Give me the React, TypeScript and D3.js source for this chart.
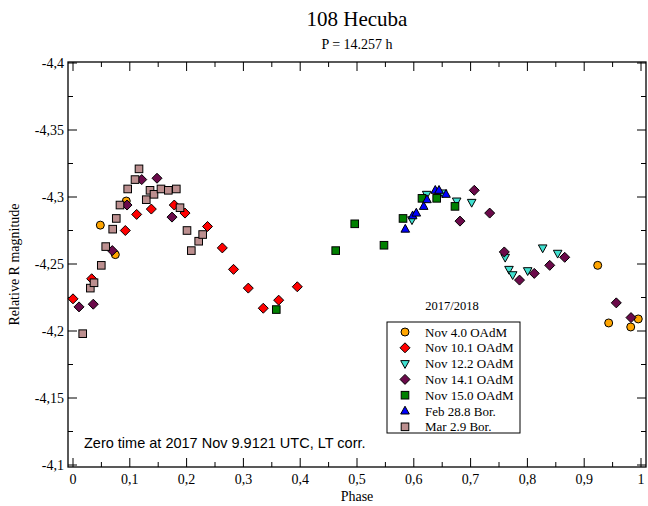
import React from "react";
import * as d3 from "d3";

const W = 648, H = 506;

// Series data: [phase, relative R magnitude]
const nov04: [number, number][] = [
  [0.0481, -4.279], [0.0745, -4.257], [0.0938, -4.297], [0.9238, -4.249],
  [0.9431, -4.206], [0.9819, -4.203], [0.9952, -4.209],
];
const nov10: [number, number][] = [
  [0.0, -4.224], [0.0329, -4.239], [0.0921, -4.275], [0.1121, -4.287],
  [0.1379, -4.291], [0.1783, -4.294], [0.1972, -4.288], [0.2368, -4.278],
  [0.2629, -4.262], [0.2826, -4.246], [0.3086, -4.232], [0.335, -4.217],
  [0.3621, -4.223], [0.3949, -4.233],
];
const nov12: [number, number][] = [
  [0.5968, -4.283], [0.6227, -4.302], [0.6509, -4.303], [0.6755, -4.297],
  [0.7019, -4.296], [0.7609, -4.255], [0.7676, -4.246], [0.7741, -4.242],
  [0.8005, -4.245], [0.8269, -4.262], [0.8533, -4.258],
];
const nov14: [number, number][] = [
  [0.0106, -4.218], [0.0357, -4.22], [0.0692, -4.26], [0.0951, -4.294],
  [0.121, -4.313], [0.1479, -4.314], [0.1743, -4.285], [0.6813, -4.282],
  [0.7065, -4.305], [0.7336, -4.288], [0.7593, -4.259], [0.7861, -4.238],
  [0.8121, -4.243], [0.8393, -4.249], [0.8657, -4.255], [0.9565, -4.221],
  [0.9824, -4.21],
];
const nov15: [number, number][] = [
  [0.3579, -4.216], [0.4625, -4.26], [0.496, -4.28], [0.5475, -4.264],
  [0.581, -4.284], [0.6144, -4.299], [0.6403, -4.299], [0.6725, -4.293],
];
const feb28: [number, number][] = [
  [0.585, -4.276], [0.598, -4.286], [0.6044, -4.288], [0.6174, -4.293],
  [0.6232, -4.298], [0.6378, -4.305], [0.6444, -4.305], [0.6567, -4.302],
];
const mar02: [number, number][] = [
  [0.0171, -4.198], [0.0305, -4.232], [0.037, -4.236], [0.0498, -4.249],
  [0.0576, -4.263], [0.0699, -4.276], [0.0762, -4.284], [0.0827, -4.294],
  [0.0963, -4.306], [0.1092, -4.313], [0.1162, -4.321], [0.129, -4.298],
  [0.1356, -4.305], [0.1426, -4.302], [0.1549, -4.306], [0.1678, -4.305],
  [0.1819, -4.306], [0.1884, -4.292], [0.2007, -4.275], [0.2083, -4.26],
  [0.2213, -4.267], [0.2283, -4.272],
];

const seriesNames = [
  "Nov 4.0 OAdM", "Nov 10.1 OAdM", "Nov 12.2 OAdM", "Nov 14.1 OAdM",
  "Nov 15.0 OAdM", "Feb 28.8 Bor.", "Mar 2.9 Bor.",
];
const seriesData = [nov04, nov10, nov12, nov14, nov15, feb28, mar02];
const seriesColors = ["#FFA500", "#FF0000", "#40E0D0", "#6B0A4A", "#008000", "#0000FF", "#BC8F8F"];
const seriesShapes = ["circle", "diamond", "triDown", "diamond", "square", "triUp", "square"];

const xMajor = [0, 0.1, 0.2, 0.3, 0.4, 0.5, 0.6, 0.7, 0.8, 0.9, 1];
const yMajor = [-4.4, -4.35, -4.3, -4.25, -4.2, -4.15, -4.1];

const SERIF = "'Liberation Serif', 'DejaVu Serif', serif";
const SANS = "'Liberation Sans', Arial, sans-serif";

const fmt = (v: number) => {
  const s = String(Math.round(v * 1000) / 1000);
  return s.replace(".", ",");
};

function Marker({ shape, x, y, color }: { shape: string; x: number; y: number; color: string }) {
  const st = { fill: color, stroke: "#000", strokeWidth: 1 } as any;
  if (shape === "circle") return <circle cx={x} cy={y} r={4} {...st} />;
  if (shape === "square") return <rect x={x - 3.8} y={y - 3.8} width={7.6} height={7.6} {...st} />;
  if (shape === "diamond")
    return <path d={`M${x},${y - 5}L${x + 5},${y}L${x},${y + 5}L${x - 5},${y}Z`} {...st} />;
  if (shape === "triUp")
    return <path d={`M${x},${y - 4.8}L${x + 4.3},${y + 3}L${x - 4.3},${y + 3}Z`} {...st} />;
  return <path d={`M${x},${y + 4.8}L${x + 4.3},${y - 3}L${x - 4.3},${y - 3}Z`} {...st} />;
}

export default function App() {
  const left = 68, right = 646, top = 62, bottom = 467;
  const x = d3.scaleLinear().domain([0, 1]).range([73, 641]);
  const y = d3.scaleLinear().domain([-4.4, -4.1]).range([63, 465]);
  const xMinor = d3.range(0.05, 1, 0.1);
  const yMinor = d3.range(-4.375, -4.1, 0.05);
  const cx = (left + right) / 2;

  return (
    <svg width={W} height={H} style={{ position: "absolute", left: 0, top: 0, background: "#fff" }}>
      <rect width={W} height={H} fill="#fff" />
      <text x={cx} y={26} textAnchor="middle" fontFamily={SERIF} fontSize={21}>108 Hecuba</text>
      <text x={cx} y={49} textAnchor="middle" fontFamily={SERIF} fontSize={14}>P = 14.257 h</text>

      {/* frame */}
      <rect x={left} y={top} width={right - left} height={bottom - top} fill="none" stroke="#000" strokeWidth={1.3} />

      {/* x ticks */}
      {xMajor.map((v) => (
        <g key={"xm" + v}>
          <line x1={x(v)} x2={x(v)} y1={bottom} y2={bottom - 9} stroke="#000" />
          <line x1={x(v)} x2={x(v)} y1={top} y2={top + 9} stroke="#000" />
          <text x={x(v)} y={bottom + 17} textAnchor="middle" fontFamily={SERIF} fontSize={14}>{fmt(v)}</text>
        </g>
      ))}
      {xMinor.map((v) => (
        <g key={"xn" + v}>
          <line x1={x(v)} x2={x(v)} y1={bottom} y2={bottom - 5} stroke="#000" />
          <line x1={x(v)} x2={x(v)} y1={top} y2={top + 5} stroke="#000" />
        </g>
      ))}
      {/* y ticks */}
      {yMajor.map((v) => (
        <g key={"ym" + v}>
          <line x1={left} x2={left + 9} y1={y(v)} y2={y(v)} stroke="#000" />
          <line x1={right} x2={right - 9} y1={y(v)} y2={y(v)} stroke="#000" />
          <text x={left - 4} y={y(v) + 5} textAnchor="end" fontFamily={SERIF} fontSize={14}>{fmt(v)}</text>
        </g>
      ))}
      {yMinor.map((v) => (
        <g key={"yn" + v}>
          <line x1={left} x2={left + 5} y1={y(v)} y2={y(v)} stroke="#000" />
          <line x1={right} x2={right - 5} y1={y(v)} y2={y(v)} stroke="#000" />
        </g>
      ))}

      <text x={cx} y={501} textAnchor="middle" fontFamily={SERIF} fontSize={14}>Phase</text>
      <text transform={`translate(19,${(top + bottom) / 2}) rotate(-90)`} textAnchor="middle" fontFamily={SERIF} fontSize={14}>
        Relative R magnitude
      </text>

      <text x={84} y={448} fontFamily={SANS} fontSize={14.5}>Zero time at 2017 Nov 9.9121 UTC, LT corr.</text>

      {/* data */}
      {seriesData.map((data, i) => (
        <g key={"s" + i}>
          {data.map((d, j) => (
            <Marker key={j} shape={seriesShapes[i]} x={x(d[0])} y={y(d[1])} color={seriesColors[i]} />
          ))}
        </g>
      ))}

      {/* legend */}
      <text x={452} y={310} textAnchor="middle" fontFamily={SERIF} fontSize={12.5}>2017/2018</text>
      <rect x={387} y={322} width={133} height={111} fill="#fff" stroke="#000" strokeWidth={1} />
      {seriesNames.map((n, i) => (
        <g key={"l" + i}>
          <Marker shape={seriesShapes[i]} x={405} y={332 + i * 15.8} color={seriesColors[i]} />
          <text x={425} y={336.5 + i * 15.8} fontFamily={SERIF} fontSize={13}>{n}</text>
        </g>
      ))}
    </svg>
  );
}
